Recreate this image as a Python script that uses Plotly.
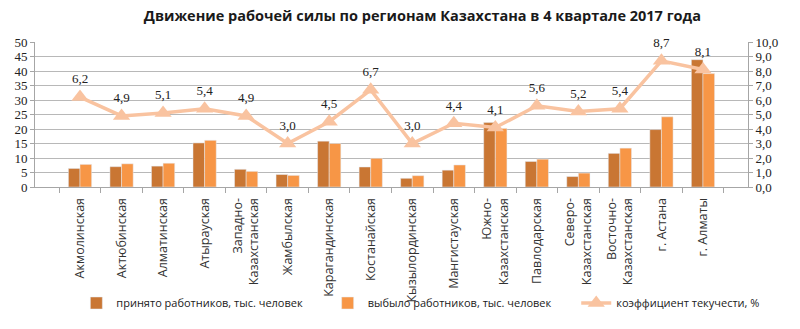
import plotly.graph_objects as go

regions = ["Акмолинская", "Актюбинская", "Алматинская", "Атырауская",
           "Западно-<br>Казахстанская", "Жамбылская", "Карагандинская", "Костанайская",
           "Кызылординская", "Мангистауская", "Южно-<br>Казахстанская", "Павлодарская",
           "Северо-<br>Казахстанская", "Восточно-<br>Казахстанская", "г. Астана", "г. Алматы"]
hired = [6.4, 7.0, 7.2, 15.2, 6.1, 4.3, 15.8, 6.9, 3.0, 5.8, 22.2, 8.8, 3.6, 11.6, 19.8, 43.9]
left = [7.8, 8.0, 8.2, 16.1, 5.4, 4.0, 15.0, 9.9, 3.9, 7.6, 20.2, 9.6, 4.8, 13.4, 24.2, 39.1]
turnover = [6.2, 4.9, 5.1, 5.4, 4.9, 3.0, 4.5, 6.7, 3.0, 4.4, 4.1, 5.6, 5.2, 5.4, 8.7, 8.1]
left_ticks = list(range(0, 51, 5))
right_ticks = [i * 1.0 for i in range(11)]

title = "Движение рабочей силы по регионам Казахстана в 4 квартале 2017 года"
name_hired = "принято работников, тыс. человек"
name_left = "выбыло работников, тыс. человек"
name_turn = "коэффициент текучести, %"
pad = "\u00a0" * 7

fig = go.Figure()
fig.add_trace(go.Bar(x=regions, y=hired, name=name_hired + pad, marker_color="#C97633"))
fig.add_trace(go.Bar(x=regions, y=left, name=name_left + pad, marker_color="#F79646"))
fig.add_trace(go.Scatter(
    x=regions, y=turnover, name=name_turn, yaxis="y2",
    mode="lines+markers+text", cliponaxis=False,
    line=dict(color="#F9C3A0", width=3.5),
    marker=dict(symbol="triangle-up", size=15, color="#F9C3A0"),
    text=[f"{v:.1f}".replace(".", ",") for v in turnover],
    textposition="top center",
    textfont=dict(family="Liberation Serif", size=13, color="#222222"),
))

fig.update_layout(
    width=800, height=329,
    margin=dict(l=35, r=52, t=42, b=137),
    paper_bgcolor="white", plot_bgcolor="white",
    barmode="group", bargap=0.44, bargroupgap=0,
    title=dict(text=f"<b>{title}</b>", x=0.528, xanchor="center", y=0.952, yanchor="middle",
               font=dict(family="Open Sans", size=14.5, color="#1a1a1a")),
    showlegend=True,
    legend=dict(orientation="h", x=0.058, xanchor="left", y=-0.8, yanchor="middle",
                bgcolor="rgba(0,0,0,0)",
                font=dict(family="Open Sans", size=11, color="#1a1a1a"),
                itemwidth=30, tracegroupgap=0, traceorder="normal"),
    xaxis=dict(
        type="category", automargin=False,
        tickangle=-90, ticklabelstandoff=5,
        tickfont=dict(family="Open Sans", size=12.5, color="#333333"),
        showline=True, linecolor="#A6A6A6", linewidth=1,
        ticks="outside", tickson="boundaries", ticklen=5, tickcolor="#A6A6A6",
        showgrid=False,
    ),
    yaxis=dict(
        range=[0, 50], tickvals=left_ticks, ticktext=[str(v) for v in left_ticks],
        showgrid=True, gridcolor="#B8B8B8", gridwidth=1, automargin=False,
        showline=True, linecolor="#A6A6A6", ticks="outside", ticklen=4, tickcolor="#A6A6A6",
        tickfont=dict(family="Liberation Serif", size=13, color="#222222"),
        zeroline=False,
    ),
    yaxis2=dict(
        range=[0, 10], overlaying="y", side="right", automargin=False,
        tickvals=right_ticks, ticktext=[f"{v:.1f}".replace(".", ",") for v in right_ticks],
        showgrid=False, showline=True, linecolor="#A6A6A6", ticks="outside", ticklen=4,
        tickcolor="#A6A6A6",
        tickfont=dict(family="Liberation Serif", size=13, color="#222222"),
        zeroline=False,
    ),
)

fig.write_html("out.html")
